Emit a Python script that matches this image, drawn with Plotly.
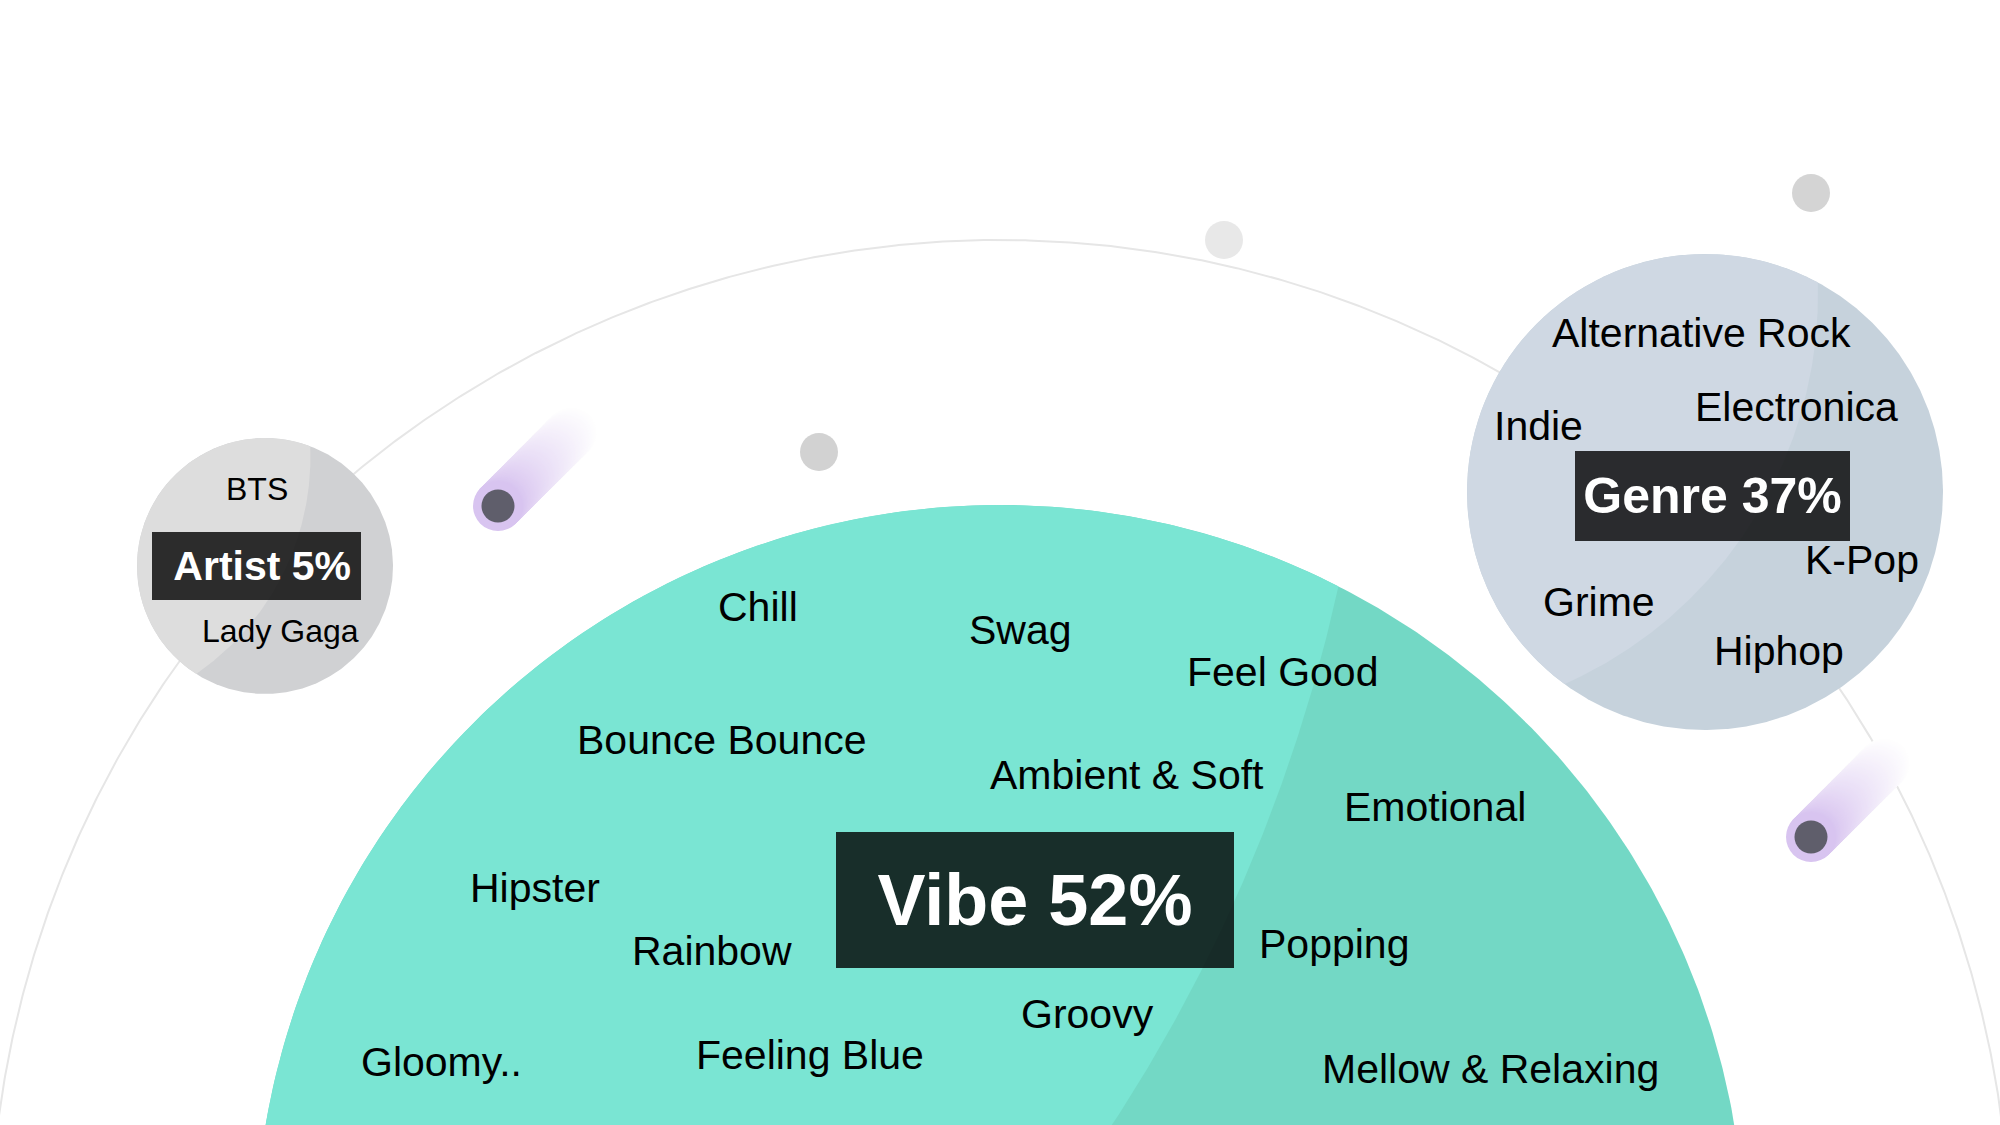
import numpy as np
import plotly.graph_objects as go

# ---------------- data ----------------
categories = ["Vibe", "Genre", "Artist"]
shares = [52, 37, 5]

vibe_tags = ["Chill", "Swag", "Feel Good", "Bounce Bounce", "Ambient & Soft",
             "Emotional", "Hipster", "Rainbow", "Popping", "Groovy",
             "Feeling Blue", "Gloomy..", "Mellow & Relaxing"]
genre_tags = ["Alternative Rock", "Electronica", "Indie", "K-Pop", "Grime", "Hiphop"]
artist_tags = ["BTS", "Lady Gaga"]

# ---------------- layout (positions / styles) ----------------
W, H = 2000, 1125
FONT = "Liberation Sans, Arial, Helvetica, sans-serif"

vibe_pos = [(758, 607), (1020, 630), (1282, 672), (722, 740), (1127, 775),
            (1435, 807), (535, 888), (712, 951), (1334, 944), (1087, 1014),
            (810, 1055), (441, 1062), (1490, 1069)]
genre_pos = [(1701, 333), (1796, 407), (1538, 426), (1862, 560), (1599, 602), (1779, 651)]
artist_pos = [(257, 489), (280, 631)]

bubbles = {
    "Vibe":   dict(c=(1000, 1250), r=745, light="#7ae5d3", dark="#73d8c5",
                   shade=((-239, 240), 1615), box=(1034.5, 900, 398, 136), fs=72, word_fs=41,
                   pad=""),
    "Genre":  dict(c=(1705, 492), r=238, light="#cfd8e3", dark="#c6d2dc",
                   shade=((1391, 294), 427), box=(1712.5, 496, 275, 90), fs=50, word_fs=41,
                   pad=""),
    "Artist": dict(c=(265, 566), r=128, light="#dddddd", dark="#d0d1d3",
                   shade=((46.5, 456.5), 264), box=(256.5, 566, 209, 68), fs=41, word_fs=32,
                   pad="&nbsp;"),
}
orbit = dict(c=(1000, 1250), r=1010, color="#e6e6e6", width=2)
dots = [(1224, 240, "#e8e8e8"), (819, 452, "#d2d2d2"), (1811, 193, "#d4d4d4")]
dot_size = 38
comets = [(498, 506), (1811, 837)]

fig = go.Figure()


def circle_xy(c, r, n=721):
    t = np.linspace(0, 2 * np.pi, n)
    return c[0] + r * np.cos(t), c[1] + r * np.sin(t)


def add_poly(x, y, color):
    fig.add_trace(go.Scatter(x=x, y=y, mode="lines", fill="toself", fillcolor=color,
                             line=dict(width=0, color=color), hoverinfo="skip",
                             showlegend=False))


# orbit
ox, oy = circle_xy(orbit["c"], orbit["r"], 2001)
fig.add_trace(go.Scatter(x=ox, y=oy, mode="lines", line=dict(color=orbit["color"], width=orbit["width"]),
                         hoverinfo="skip", showlegend=False))

# comets
for hx, hy in comets:
    n = 70
    L = 105
    d = np.linspace(L, 0, n)
    xs = hx + d / np.sqrt(2)
    ys = hy - d / np.sqrt(2)
    frac = d / L
    c0 = np.array([216, 196, 240])
    c1 = np.array([255, 255, 255])
    cols = []
    for f in frac:
        ff = min(1.0, f ** 0.75)
        cc = c0 * (1 - ff) + c1 * ff
        cols.append("rgb(%d,%d,%d)" % tuple(cc.astype(int)))
    fig.add_trace(go.Scatter(x=xs, y=ys, mode="markers",
                             marker=dict(size=50, color=cols, line=dict(width=0)),
                             hoverinfo="skip", showlegend=False))
    fig.add_trace(go.Scatter(x=[hx], y=[hy], mode="markers",
                             marker=dict(size=33, color="#5f5e6b", line=dict(width=0)),
                             hoverinfo="skip", showlegend=False))

# dots
fig.add_trace(go.Scatter(x=[d[0] for d in dots], y=[d[1] for d in dots], mode="markers",
                         marker=dict(size=dot_size, color=[d[2] for d in dots], line=dict(width=0)),
                         hoverinfo="skip", showlegend=False))

# bubbles
for name in categories:
    b = bubbles[name]
    x, y = circle_xy(b["c"], b["r"])
    add_poly(x, y, b["dark"])
    (sx, sy), sr = b["shade"]
    dx, dy = x - sx, y - sy
    dist = np.hypot(dx, dy)
    scale = np.where(dist > sr, sr / dist, 1.0)
    add_poly(sx + dx * scale, sy + dy * scale, b["light"])

annotations = []


def word(text, x, y, fs):
    annotations.append(dict(x=x, y=y, xref="x", yref="y", text=text, showarrow=False,
                            xanchor="center", yanchor="middle",
                            font=dict(family=FONT, size=fs, color="#000000")))


for t, (x, y) in zip(vibe_tags, vibe_pos):
    word(t, x, y, bubbles["Vibe"]["word_fs"])
for t, (x, y) in zip(genre_tags, genre_pos):
    word(t, x, y, bubbles["Genre"]["word_fs"])
for t, (x, y) in zip(artist_tags, artist_pos):
    word(t, x, y, bubbles["Artist"]["word_fs"])

for name, s in zip(categories, shares):
    b = bubbles[name]
    bx, by, bw, bh = b["box"]
    annotations.append(dict(x=bx, y=by, xref="x", yref="y",
                            text="%s<b>%s %d%%</b>" % (b["pad"], name, s),
                            showarrow=False, xanchor="center", yanchor="middle",
                            width=bw, height=bh, align="center", valign="middle",
                            bgcolor="rgba(0,0,0,0.8)", borderpad=0, borderwidth=0,
                            font=dict(family=FONT, size=b["fs"], color="#ffffff")))

fig.update_layout(
    width=W, height=H, margin=dict(l=0, r=0, t=0, b=0),
    paper_bgcolor="#ffffff", plot_bgcolor="#ffffff",
    xaxis=dict(range=[0, W], visible=False, fixedrange=True),
    yaxis=dict(range=[H, 0], visible=False, fixedrange=True),
    annotations=annotations, showlegend=False,
)
fig.write_html("out.html", config={"displayModeBar": False})
